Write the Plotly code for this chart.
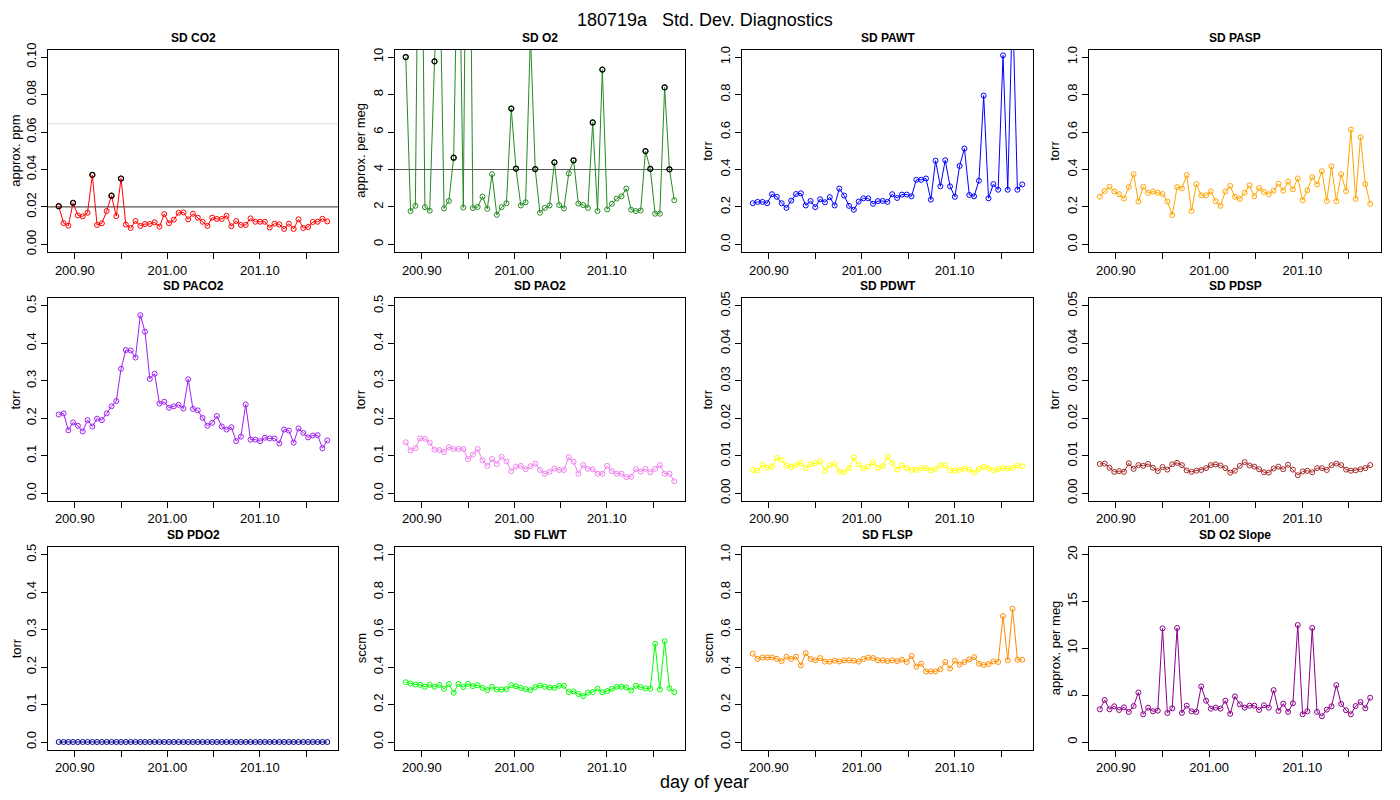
import plotly.graph_objects as go

# day of year for each 7.5 minute sample
day = [200.8827, 200.8879, 200.8931, 200.8982, 200.9034, 200.9086, 200.9138, 200.9190,
       200.9241, 200.9293, 200.9345, 200.9397, 200.9449, 200.9500, 200.9552, 200.9604,
       200.9656, 200.9708, 200.9759, 200.9811, 200.9863, 200.9915, 200.9967, 201.0018,
       201.0070, 201.0122, 201.0174, 201.0226, 201.0277, 201.0329, 201.0381, 201.0433,
       201.0485, 201.0536, 201.0588, 201.0640, 201.0692, 201.0744, 201.0795, 201.0847,
       201.0899, 201.0951, 201.1003, 201.1054, 201.1106, 201.1158, 201.1210, 201.1262,
       201.1313, 201.1365, 201.1417, 201.1469, 201.1521, 201.1572, 201.1624, 201.1676,
       201.1728]
#
sd_co2 = [0.0204, 0.0114, 0.0100, 0.0222, 0.0155, 0.0150, 0.0169, 0.0371, 0.0104, 0.0113,
          0.0178, 0.0260, 0.0151, 0.0352, 0.0106, 0.0088, 0.0125, 0.0099, 0.0109, 0.0109,
          0.0118, 0.0095, 0.0162, 0.0113, 0.0132, 0.0169, 0.0171, 0.0134, 0.0164, 0.0143,
          0.0121, 0.0099, 0.0143, 0.0136, 0.0136, 0.0153, 0.0097, 0.0125, 0.0104, 0.0104,
          0.0139, 0.0121, 0.0121, 0.0121, 0.0090, 0.0111, 0.0107, 0.0083, 0.0111, 0.0083,
          0.0134, 0.0088, 0.0093, 0.0120, 0.0121, 0.0137, 0.0123]
sd_o2 = [10.0, 1.78, 2.06, 28.0, 1.99, 1.80, 9.77, 16.0, 1.92, 2.32,
         4.63, 19.0, 1.97, 30.0, 1.94, 2.00, 2.55, 1.90, 3.75, 1.58,
         1.99, 2.20, 7.25, 4.05, 2.08, 2.25, 11.2, 4.02, 1.69, 1.95,
         2.08, 4.38, 2.10, 1.92, 3.79, 4.49, 2.18, 2.10, 1.95, 6.51,
         1.78, 9.33, 1.87, 2.17, 2.45, 2.57, 2.98, 1.85, 1.78, 1.81,
         4.98, 4.03, 1.64, 1.64, 8.38, 4.01, 2.36]
sd_pawt = [0.220, 0.227, 0.227, 0.220, 0.268, 0.254, 0.220, 0.195, 0.234, 0.269,
           0.273, 0.208, 0.232, 0.199, 0.241, 0.225, 0.252, 0.208, 0.298, 0.261,
           0.206, 0.185, 0.229, 0.246, 0.246, 0.217, 0.231, 0.232, 0.227, 0.268,
           0.248, 0.266, 0.266, 0.257, 0.345, 0.345, 0.352, 0.239, 0.447, 0.310,
           0.449, 0.310, 0.254, 0.419, 0.512, 0.264, 0.257, 0.340, 0.794, 0.246,
           0.322, 0.292, 1.009, 0.292, 1.300, 0.292, 0.320]
sd_pasp = [0.255, 0.285, 0.308, 0.283, 0.268, 0.245, 0.306, 0.375, 0.229, 0.308,
           0.275, 0.282, 0.276, 0.269, 0.229, 0.157, 0.306, 0.299, 0.370, 0.178,
           0.322, 0.262, 0.262, 0.283, 0.231, 0.206, 0.283, 0.312, 0.254, 0.243,
           0.276, 0.315, 0.257, 0.301, 0.280, 0.268, 0.287, 0.324, 0.287, 0.335,
           0.294, 0.352, 0.236, 0.289, 0.359, 0.320, 0.391, 0.232, 0.417, 0.231,
           0.375, 0.285, 0.613, 0.243, 0.572, 0.322, 0.217]
sd_paco2 = [0.210, 0.213, 0.168, 0.189, 0.180, 0.165, 0.195, 0.178, 0.199, 0.195,
            0.213, 0.232, 0.246, 0.332, 0.382, 0.381, 0.362, 0.475, 0.431, 0.305,
            0.319, 0.239, 0.244, 0.228, 0.232, 0.236, 0.226, 0.304, 0.225, 0.221,
            0.201, 0.180, 0.188, 0.206, 0.178, 0.170, 0.176, 0.139, 0.151, 0.237,
            0.143, 0.143, 0.139, 0.148, 0.146, 0.146, 0.133, 0.170, 0.167, 0.135,
            0.173, 0.161, 0.149, 0.154, 0.155, 0.120, 0.141]
sd_pao2 = [0.136, 0.114, 0.120, 0.146, 0.145, 0.135, 0.116, 0.115, 0.110, 0.123,
           0.118, 0.118, 0.118, 0.091, 0.103, 0.118, 0.088, 0.073, 0.091, 0.078,
           0.097, 0.085, 0.059, 0.071, 0.073, 0.064, 0.072, 0.079, 0.062, 0.052,
           0.057, 0.066, 0.062, 0.062, 0.096, 0.084, 0.052, 0.075, 0.065, 0.064,
           0.052, 0.052, 0.073, 0.059, 0.052, 0.052, 0.043, 0.044, 0.064, 0.058,
           0.065, 0.056, 0.065, 0.075, 0.052, 0.052, 0.032]
sd_pdwt = [0.0062, 0.0060, 0.0076, 0.0068, 0.0071, 0.0094, 0.0088, 0.0074, 0.0070, 0.0075,
           0.0081, 0.0067, 0.0077, 0.0080, 0.0085, 0.0060, 0.0075, 0.0078, 0.0058, 0.0056,
           0.0067, 0.0095, 0.0076, 0.0066, 0.0071, 0.0083, 0.0068, 0.0072, 0.0098, 0.0081,
           0.0063, 0.0074, 0.0067, 0.0062, 0.0062, 0.0067, 0.0067, 0.0061, 0.0065, 0.0075,
           0.0074, 0.0061, 0.0060, 0.0062, 0.0066, 0.0063, 0.0055, 0.0065, 0.0071, 0.0067,
           0.0061, 0.0064, 0.0067, 0.0066, 0.0067, 0.0074, 0.0072]
sd_pdsp = [0.0078, 0.0079, 0.0068, 0.0057, 0.0059, 0.0057, 0.0080, 0.0065, 0.0075, 0.0073,
           0.0078, 0.0068, 0.0059, 0.0070, 0.0063, 0.0077, 0.0081, 0.0075, 0.0061, 0.0057,
           0.0060, 0.0062, 0.0067, 0.0075, 0.0077, 0.0074, 0.0067, 0.0055, 0.0060, 0.0073,
           0.0083, 0.0074, 0.0071, 0.0064, 0.0056, 0.0055, 0.0066, 0.0071, 0.0064, 0.0076,
           0.0063, 0.0048, 0.0058, 0.0060, 0.0056, 0.0067, 0.0067, 0.0062, 0.0075, 0.0079,
           0.0075, 0.0063, 0.0060, 0.0061, 0.0064, 0.0067, 0.0075]
sd_pdo2 = [0.0] * 57
sd_flwt = [0.319, 0.312, 0.307, 0.305, 0.295, 0.305, 0.295, 0.305, 0.284, 0.309,
           0.263, 0.310, 0.293, 0.310, 0.298, 0.303, 0.289, 0.277, 0.295, 0.280,
           0.280, 0.282, 0.303, 0.298, 0.289, 0.282, 0.277, 0.293, 0.302, 0.295,
           0.291, 0.289, 0.300, 0.300, 0.266, 0.270, 0.256, 0.245, 0.263, 0.266,
           0.284, 0.265, 0.272, 0.284, 0.295, 0.295, 0.291, 0.275, 0.300, 0.293,
           0.286, 0.284, 0.524, 0.280, 0.538, 0.287, 0.266]
sd_flsp = [0.471, 0.444, 0.451, 0.451, 0.451, 0.444, 0.432, 0.455, 0.443, 0.455,
           0.409, 0.474, 0.443, 0.436, 0.448, 0.429, 0.429, 0.434, 0.430, 0.436,
           0.436, 0.434, 0.429, 0.443, 0.450, 0.448, 0.437, 0.436, 0.432, 0.436,
           0.432, 0.439, 0.427, 0.459, 0.402, 0.418, 0.376, 0.377, 0.377, 0.388,
           0.427, 0.392, 0.434, 0.413, 0.427, 0.441, 0.453, 0.418, 0.411, 0.416,
           0.430, 0.427, 0.672, 0.436, 0.711, 0.439, 0.439]
sd_o2slope = [3.49, 4.48, 3.49, 3.81, 3.42, 3.70, 3.21, 3.84, 5.29, 2.96,
              3.67, 3.28, 3.35, 12.13, 3.10, 3.60, 12.17, 3.10, 3.88, 3.28,
              3.21, 5.93, 4.41, 3.56, 3.67, 3.56, 4.41, 3.00, 4.87, 4.02,
              3.67, 3.88, 3.88, 3.42, 3.92, 3.67, 5.54, 3.32, 4.09, 3.21,
              4.13, 12.49, 2.96, 3.28, 12.17, 3.21, 2.75, 3.46, 3.81, 6.07,
              4.06, 3.39, 2.96, 3.84, 4.27, 3.60, 4.73]
#
# panel: title, values, colour, y label, y max, y tick step, tick format, limit lines
panels = [
    ("SD CO2", sd_co2, "#FF0000", "approx. ppm", 0.1, 0.02, ".2f", [0.02, 0.0644]),
    ("SD O2", sd_o2, "#228B22", "approx. per meg", 10, 2, "d", [4]),
    ("SD PAWT", sd_pawt, "#0000FF", "torr", 1.0, 0.2, ".1f", []),
    ("SD PASP", sd_pasp, "#FFA500", "torr", 1.0, 0.2, ".1f", []),
    ("SD PACO2", sd_paco2, "#A020F0", "torr", 0.5, 0.1, ".1f", []),
    ("SD PAO2", sd_pao2, "#EE82EE", "torr", 0.5, 0.1, ".1f", []),
    ("SD PDWT", sd_pdwt, "#FFFF00", "torr", 0.05, 0.01, ".2f", []),
    ("SD PDSP", sd_pdsp, "#A52A2A", "torr", 0.05, 0.01, ".2f", []),
    ("SD PDO2", sd_pdo2, "#00008B", "torr", 0.5, 0.1, ".1f", []),
    ("SD FLWT", sd_flwt, "#00FF00", "sccm", 1.0, 0.2, ".1f", []),
    ("SD FLSP", sd_flsp, "#FF8C00", "sccm", 1.0, 0.2, ".1f", []),
    ("SD O2 Slope", sd_o2slope, "#8B008B", "approx. per meg", 20, 5, "d", []),
]
#
# the page body has an 8px margin, so the figure is 16px smaller and
# every screen position below is shifted by OFF
OFF = 8
W, H = 1400 - 2 * OFF, 800 - 2 * OFF
col_px = [(48, 338), (395, 685), (742, 1033), (1089, 1381)]
row_px = [(43, 248), (295, 500), (547, 752)]
ylab_gap = [32, 34, 34, 34]
xticks = [200.90, 200.95, 201.00, 201.05, 201.10, 201.15]
xlabels = ["200.90", "", "201.00", "", "201.10", ""]
font = "Liberation Sans, Arial, sans-serif"


def px(p):
    return (p - OFF) / W


def py(p):
    return 1 - (p - OFF) / H


fig = go.Figure()
annotations = []
shapes = []
layout = {}
for i, (title, vals, colour, ylab, ymax, ystep, fmt, limits) in enumerate(panels):
    r, c = divmod(i, 4)
    n = i + 1
    xa = "x" if n == 1 else "x%d" % n
    ya = "y" if n == 1 else "y%d" % n
    x0, x1 = col_px[c]
    y0, y1 = row_px[r]
    pad = ymax * 0.04
    #
    # limit lines
    for j, lim in enumerate(limits):
        shapes.append(dict(type="line", xref=xa + " domain", yref=ya, x0=0, x1=1,
                           y0=lim, y1=lim,
                           line=dict(color="#555555" if j == 0 else "#DDDDDD", width=1.2),
                           layer="below"))
    #
    fig.add_trace(go.Scatter(
        x=day, y=vals, xaxis=xa, yaxis=ya, mode="lines+markers",
        line=dict(color=colour, width=1),
        marker=dict(symbol="circle-open", size=5, color=colour, line=dict(width=1)),
        cliponaxis=True, showlegend=False, hoverinfo="x+y"))
    #
    # points outside the limit get a black ring
    if limits:
        bx = [d for d, v in zip(day, vals) if v > limits[0]]
        by = [v for v in vals if v > limits[0]]
        fig.add_trace(go.Scatter(
            x=bx, y=by, xaxis=xa, yaxis=ya, mode="markers",
            marker=dict(symbol="circle-open", size=5, color="black", line=dict(width=1.2)),
            cliponaxis=True, showlegend=False, hoverinfo="x+y"))
    #
    ytv = [round(k * ystep, 4) for k in range(int(round(ymax / ystep)) + 1)]
    layout["xaxis" if n == 1 else "xaxis%d" % n] = dict(
        domain=[px(x0), px(x1)], anchor=ya, range=[200.8711, 201.1844],
        tickvals=xticks, ticktext=xlabels, ticks="outside", ticklen=6,
        tickcolor="black", showline=True, mirror=True, linecolor="black", linewidth=1,
        showgrid=False, zeroline=False, tickfont=dict(size=13, color="black"))
    layout["yaxis" if n == 1 else "yaxis%d" % n] = dict(
        domain=[py(y1), py(y0)], anchor=xa, range=[-pad, ymax + pad],
        tickvals=ytv, tickformat=fmt, tickangle=-90, ticks="outside", ticklen=6,
        tickcolor="black", showline=True, mirror=True, linecolor="black", linewidth=1,
        showgrid=False, zeroline=False, tickfont=dict(size=13, color="black"))
    #
    annotations.append(dict(text="<b>%s</b>" % title, xref="paper", yref="paper",
                            x=px((x0 + x1) / 2), y=py(y0 - 3), xanchor="center",
                            yanchor="bottom", showarrow=False,
                            font=dict(size=12, color="black", family=font)))
    annotations.append(dict(text=ylab, xref="paper", yref="paper",
                            x=px(x0 - ylab_gap[c]), y=py((y0 + y1) / 2), textangle=-90,
                            xanchor="center", yanchor="middle", showarrow=False,
                            font=dict(size=13, color="black", family=font)))
#
annotations.append(dict(text="180719a   Std. Dev. Diagnostics", xref="paper", yref="paper",
                        x=px(705), y=py(13), xanchor="center", yanchor="middle",
                        showarrow=False, font=dict(size=18, color="black", family=font)))
annotations.append(dict(text="day of year", xref="paper", yref="paper",
                        x=px(704), y=py(785), xanchor="center", yanchor="middle",
                        showarrow=False, font=dict(size=18, color="black", family=font)))
#
fig.update_layout(**layout)
fig.update_layout(
    width=W, height=H, margin=dict(l=0, r=0, t=0, b=0),
    paper_bgcolor="white", plot_bgcolor="white",
    font=dict(family=font, size=12, color="black"),
    annotations=annotations, shapes=shapes, showlegend=False)
fig.write_html("out.html")
